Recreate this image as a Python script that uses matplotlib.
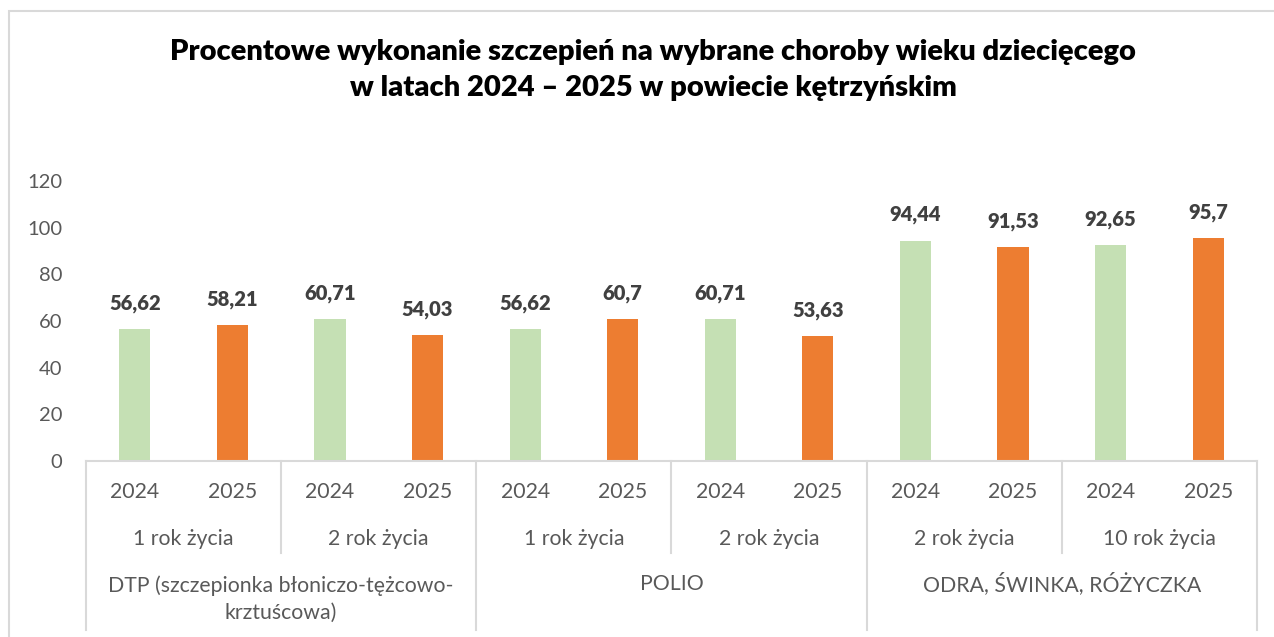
import matplotlib.pyplot as plt
from matplotlib.patches import Rectangle

# Data
years = ['2024', '2025'] * 6
ages = ['1 rok życia', '2 rok życia', '1 rok życia', '2 rok życia', '2 rok życia', '10 rok życia']
groups = ['DTP (szczepionka błoniczo-tężcowo-\nkrztuścowa)', 'POLIO', 'ODRA, ŚWINKA, RÓŻYCZKA']
values = [56.62, 58.21, 60.71, 54.03, 56.62, 60.7, 60.71, 53.63, 94.44, 91.53, 92.65, 95.7]
labels = ['56,62', '58,21', '60,71', '54,03', '56,62', '60,7', '60,71', '53,63', '94,44', '91,53', '92,65', '95,7']
yticks = [0, 20, 40, 60, 80, 100, 120]

GREEN = '#C5E0B4'
ORANGE = '#ED7D31'
GRAY = '#595959'
LINE = '#D9D9D9'

plt.rcParams['font.family'] = ['Lato', 'DejaVu Sans']

W, H = 1274, 637
fig = plt.figure(figsize=(W / 100, H / 100), dpi=100)

# chart border (left and top visible)
fig.patches.append(Rectangle((9 / W, -0.1), 1.2, (H - 11) / H + 0.1, transform=fig.transFigure,
                             fill=False, edgecolor=LINE, linewidth=1.5))

left, right, base, top = 86, 1257, 461, 181
ax = fig.add_axes([left / W, (H - base) / H, (right - left) / W, (base - top) / H])
ah = base - top  # axes height in px

x = list(range(len(values)))
colors = [GREEN if y == '2024' else ORANGE for y in years]
ax.bar(x, values, width=0.32, color=colors)
ax.set_xlim(-0.5, len(values) - 0.5)
ax.set_ylim(0, 120)
ax.set_yticks(yticks)
ax.set_yticklabels([str(t) for t in yticks], fontsize=14.5, color=GRAY)
ax.tick_params(axis='y', length=0, pad=17)
ax.set_xticks([])
for s in ['left', 'right', 'top']:
    ax.spines[s].set_visible(False)
ax.spines['bottom'].set_color(LINE)
ax.spines['bottom'].set_linewidth(1.5)

for xi, v, lab in zip(x, values, labels):
    ax.annotate(lab, (xi, v), xytext=(0, 18.5), textcoords='offset points',
                ha='center', va='center', fontsize=14.5, fontweight='heavy', color='#404040')

tr = ax.get_xaxis_transform()

def py(p):
    # pixel row in figure -> axes fraction
    return (base - p) / ah

# separators of the category table
for sx in [-0.5, 3.5, 7.5, 11.5]:
    ax.plot([sx, sx], [0, py(630)], transform=tr, color=LINE, lw=1.5, clip_on=False)
for sx in [1.5, 5.5, 9.5]:
    ax.plot([sx, sx], [0, py(553)], transform=tr, color=LINE, lw=1.5, clip_on=False)

fs = 15.3
for xi, yr in zip(x, years):
    ax.text(xi, py(492), yr, transform=tr, ha='center', va='center', fontsize=fs, color=GRAY)
for i, a in enumerate(ages):
    ax.text(2 * i + 0.5, py(539), a, transform=tr, ha='center', va='center', fontsize=fs, color=GRAY)
ax.text(1.5, py(599), groups[0], transform=tr, ha='center', va='center', fontsize=fs,
        color=GRAY, linespacing=1.45)
ax.text(5.5, py(584), groups[1], transform=tr, ha='center', va='center', fontsize=fs, color=GRAY)
ax.text(9.5, py(584), groups[2], transform=tr, ha='center', va='center', fontsize=fs, color=GRAY)

fig.text(653 / W, 1 - 70 / H, 'Procentowe wykonanie szczepień na wybrane choroby wieku dziecięcego\n'
         'w latach 2024 – 2025 w powiecie kętrzyńskim', ha='center', va='center',
         fontsize=21, fontweight='heavy', color='black', linespacing=1.45)

fig.savefig('out.png', dpi=100)
